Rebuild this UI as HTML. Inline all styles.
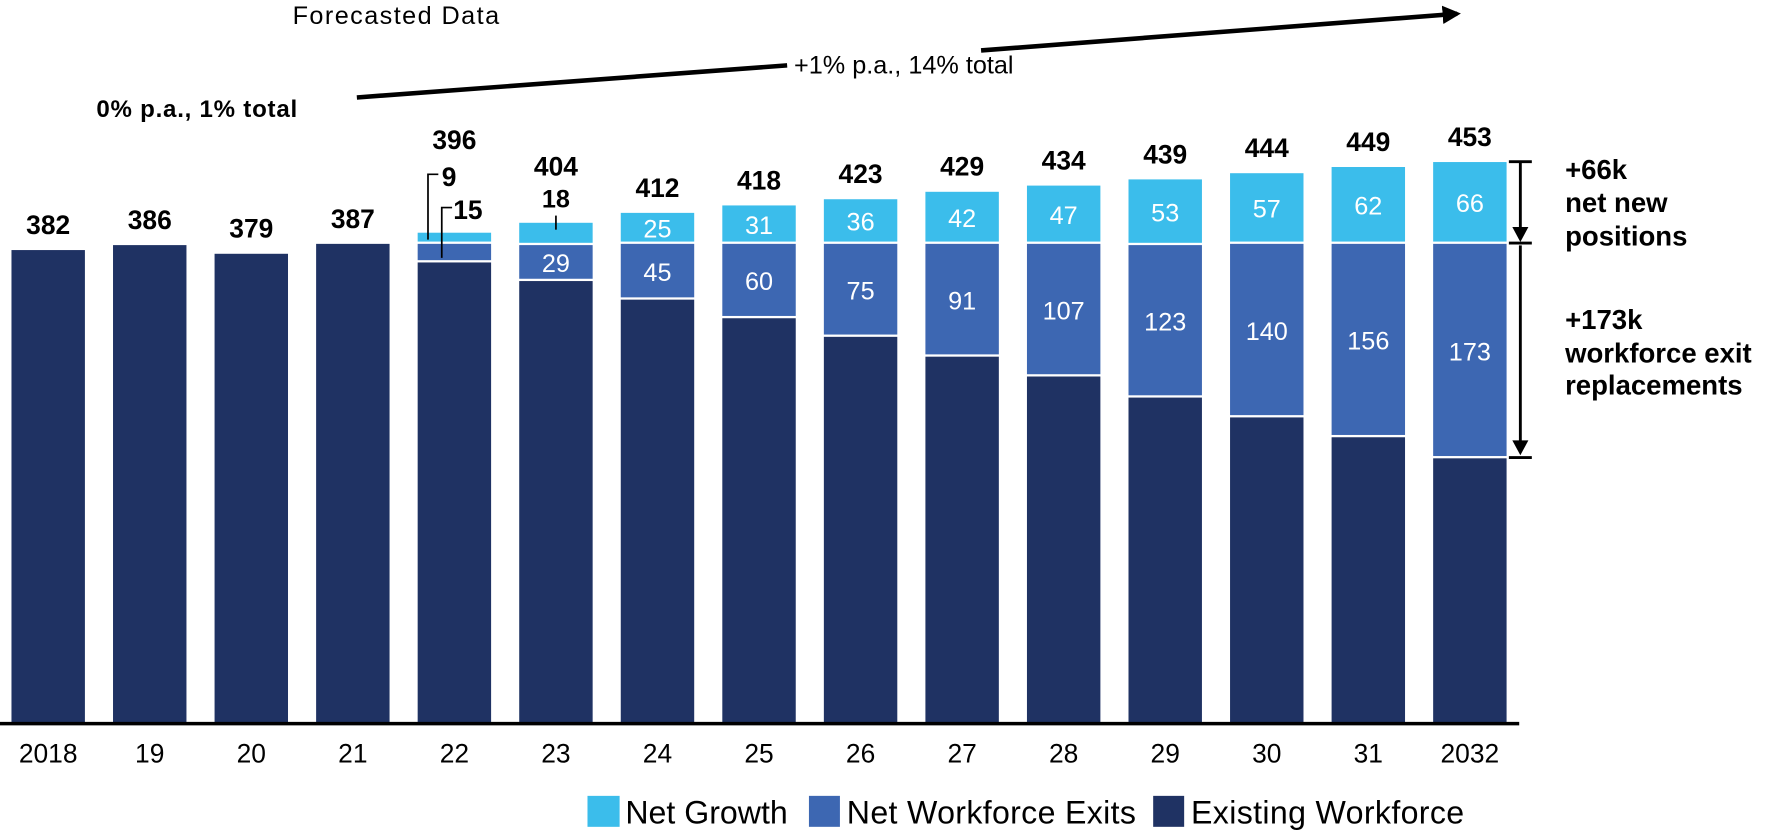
<!DOCTYPE html>
<html><head><meta charset="utf-8"><style>
html,body{margin:0;padding:0;background:#fff;}
svg{display:block;font-family:"Liberation Sans",sans-serif;}
</style></head><body>
<svg id="chart" width="1790" height="836" viewBox="0 0 1560 729" preserveAspectRatio="none" xmlns="http://www.w3.org/2000/svg">
<defs><marker id="ah" viewBox="0 0 10 10" refX="8" refY="5" markerWidth="4" markerHeight="4" orient="auto"><path d="M0,0 L10,5 L0,10 z" fill="#000"/></marker></defs>
<text x="255" y="21" font-size="22" fill="#000" textLength="180">Forecasted Data</text>
<text x="84" y="102" font-size="21" fill="#000" font-weight="bold" textLength="175">0% p.a., 1% total</text>
<line x1="311" y1="85" x2="686" y2="57" stroke="#000" stroke-width="4"/>
<line x1="855" y1="44" x2="1270" y2="12" stroke="#000" stroke-width="4" marker-end="url(#ah)"/>
<text x="692" y="64" font-size="22" fill="#000">+1% p.a., 14% total</text>
<g id="bars"></g>
<line x1="0" y1="631" x2="1324" y2="631" stroke="#000" stroke-width="3"/>
<g id="xlabels"></g>
<g stroke="#000" stroke-width="2.5">
<line x1="1315" y1="141" x2="1335" y2="141"/><line x1="1325" y1="141" x2="1325" y2="206"/>
<line x1="1315" y1="212" x2="1335" y2="212"/><line x1="1325" y1="214" x2="1325" y2="392"/>
<line x1="1315" y1="399" x2="1335" y2="399"/></g>
<path d="M1318,198 L1332,198 L1325,211 z M1318,384 L1332,384 L1325,397 z" fill="#000"/>
<g font-size="24" font-weight="bold" fill="#000">
<text x="1364" y="156">+66k</text><text x="1364" y="185">net new</text><text x="1364" y="214">positions</text></g>
<g font-size="24" font-weight="bold" fill="#000">
<text x="1364" y="287">+173k</text><text x="1364" y="316">workforce exit</text><text x="1364" y="344">replacements</text></g>
<g font-size="28" fill="#000">
<rect x="512" y="694" width="28" height="27" fill="#3bbdeb"/>
<text x="545" y="718">Net Growth</text>
<rect x="705" y="694" width="27" height="27" fill="#3d67b2"/>
<text x="738" y="718" textLength="252">Net Workforce Exits</text>
<rect x="1005" y="694" width="27" height="27" fill="#1f3263"/>
<text x="1038" y="718" textLength="238">Existing Workforce</text>
</g>
</svg>
<script>
const years = ["2018","19","20","21","22","23","24","25","26","27","28","29","30","31","2032"];
const totals = [382,386,379,387,396,404,412,418,423,429,434,439,444,449,453];
const growth = [0,0,0,0,9,18,25,31,36,42,47,53,57,62,66];
const exits = [0,0,0,0,15,29,45,60,75,91,107,123,140,156,173];
const NS = "http://www.w3.org/2000/svg";
const base = 631, k = 1.081, x0 = 10, pitch = 88.5, bw = 64;
const y = v => base - v * k;
const xb = i => x0 + i * pitch;
const bars = document.getElementById('bars');
const xl = document.getElementById('xlabels');
function mk(tag, attrs, parent){const e=document.createElementNS(NS,tag);for(const a in attrs)e.setAttribute(a,attrs[a]);parent.appendChild(e);return e;}
years.forEach((yr,i)=>{
  const ex = totals[i]-growth[i]-exits[i];
  const x = xb(i);
  let r = mk('rect',{x:x,y:y(ex),width:bw,height:base-y(ex),fill:'#1f3263'},bars);
  
  
  if(exits[i]>0){
    r = mk('rect',{x:x,y:y(ex+exits[i]),width:bw,height:exits[i]*k-2,fill:'#3d67b2'},bars);
    
    
  }
  if(growth[i]>0){
    r = mk('rect',{x:x,y:y(totals[i]),width:bw,height:growth[i]*k-2,fill:'#3bbdeb'},bars);
    
    
  }
  const cx = x + bw/2;
  let ty = y(totals[i]) - 14;
  if(i===4) ty = 130; if(i===5) ty = 153;
  let t = mk('text',{x:cx,y:ty,'text-anchor':'middle','font-size':23,'font-weight':'bold',fill:'#000'},bars);
  t.textContent = totals[i];
  
  
  if(i>=5){
    const gy = i===5 ? 181 : (y(totals[i]) + y(totals[i]-growth[i]))/2 + 8;
    t = mk('text',{x:cx,y:gy,'text-anchor':'middle','font-size':22,'font-weight':i===5?'bold':'normal',fill:i===5?'#000':'#fff'},bars);
    t.textContent = growth[i];
    
    
    if(i===5) mk('line',{x1:cx,y1:188,x2:cx,y2:y(totals[i])+6,stroke:'#000','stroke-width':1.5},bars);
    const ey = (y(ex+exits[i]) + y(ex))/2 + 8;
    t = mk('text',{x:cx,y:ey,'text-anchor':'middle','font-size':22,fill:'#fff'},bars);
    t.textContent = exits[i];
    
    
  }
  if(i===4){
    mk('polyline',{points:`${x+9},${y(totals[i])+6} ${x+9},152 ${x+18},152`,fill:'none',stroke:'#000','stroke-width':1.5},bars);
    mk('polyline',{points:`${x+21},${y(ex)-4} ${x+21},181 ${x+30},181`,fill:'none',stroke:'#000','stroke-width':1.5},bars);
    t = mk('text',{x:x+21,y:162,'font-size':23,'font-weight':'bold',fill:'#000'},bars); t.textContent = growth[i];
    
    
    t = mk('text',{x:x+31,y:191,'font-size':23,'font-weight':'bold',fill:'#000'},bars); t.textContent = exits[i];
    
    
  }
  t = mk('text',{x:cx,y:665,'text-anchor':'middle','font-size':23,fill:'#000'},xl);
  t.textContent = yr;
  
  
});
</script>
</body></html>
